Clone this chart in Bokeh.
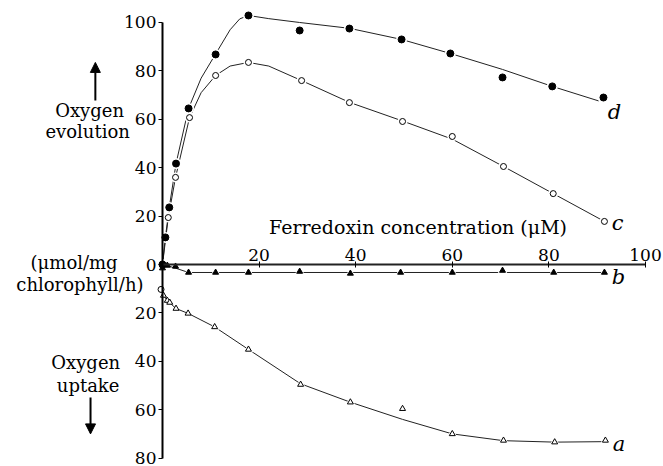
from bokeh.plotting import figure
from bokeh.models import LinearAxis, FixedTicker, Range1d, Label, Arrow, NormalHead
from bokeh.embed import file_html
from bokeh.resources import INLINE

# ---- data ----
# curve d: filled circles (oxygen evolution)
d_x = [0, 0.6, 1.4, 2.8, 5.4, 11.0, 17.8, 28.4, 38.7, 49.5, 59.6, 70.4, 80.7, 91.3]
d_y = [0, 11.2, 23.6, 41.7, 64.5, 86.8, 102.9, 96.7, 97.5, 93.0, 87.2, 77.3, 73.6, 69.0]
d_fit_x = [0, 0.6, 1.4, 2.8, 5.4, 8.0, 11.0, 14.0, 16.0, 17.8, 22.0, 28.4, 38.7, 49.5, 59.6, 70.4, 80.7, 90.3]
d_fit_y = [0, 11.2, 23.6, 41.7, 64.5, 77.0, 87.0, 97.0, 101.5, 102.9, 101.6, 100.0, 97.6, 93.0, 87.2, 80.6, 73.6, 67.6]

# curve c: open circles
c_x = [0, 1.2, 2.7, 5.6, 11.0, 17.8, 28.8, 38.7, 49.7, 60.0, 70.6, 80.9, 91.5]
c_y = [0, 19.4, 36.0, 60.7, 78.1, 83.5, 76.0, 66.9, 59.1, 52.9, 40.5, 29.3, 17.8]
c_fit_x = [0, 1.2, 2.7, 5.6, 8.0, 11.0, 14.0, 17.8, 22.0, 28.8, 38.7, 49.7, 60.0, 70.6, 80.9, 91.5]
c_fit_y = [0, 19.4, 36.0, 60.7, 71.0, 78.1, 82.0, 83.5, 82.0, 76.0, 67.0, 59.3, 51.8, 40.5, 29.3, 17.8]

# curve b: filled triangles
b_x = [0, 1.0, 2.7, 5.4, 11.0, 17.8, 28.4, 38.9, 49.3, 60.0, 70.4, 81.0, 91.5]
b_y = [-1.5, -0.4, -0.8, -3.3, -3.3, -3.3, -2.9, -3.7, -3.3, -3.3, -2.5, -3.3, -3.3]
b_fit_x = [0, 1.0, 2.7, 5.4, 91.5]
b_fit_y = [-0.5, -0.5, -1.5, -3.3, -3.3]

# curve a: open triangles (oxygen uptake)
a_x = [0.2, 1.0, 1.5, 2.8, 5.3, 10.8, 17.8, 28.6, 38.9, 49.7, 60.0, 70.6, 81.2, 91.7]
a_y = [-12.8, -14.9, -15.7, -18.2, -20.2, -25.8, -35.1, -49.6, -56.9, -59.6, -70.0, -72.7, -73.4, -72.7]
a_fit_x = [0, 0.2, 1.0, 2.8, 5.3, 10.8, 17.8, 28.6, 38.9, 49.7, 60.0, 70.6, 81.2, 91.7]
a_fit_y = [-10.3, -12.8, -14.9, -18.2, -20.2, -25.8, -35.1, -49.3, -56.9, -64.0, -70.0, -72.8, -73.4, -73.2]
a0_x = [-0.3]
a0_y = [-10.3]

x_ticks = [20, 40, 60, 80, 100]
y_ticks = [-80, -60, -40, -20, 0, 20, 40, 60, 80, 100]
y_tick_labels = {t: str(abs(t)) for t in y_ticks}

SERIF = "DejaVu Serif"

p = figure(width=663, height=466, output_backend="svg", toolbar_location=None,
           x_range=Range1d(-33.54, 103.73), y_range=Range1d(-83.47, 109.09),
           x_axis_type=None, y_axis_type=None, min_border=0,
           background_fill_color="white", border_fill_color="white")
p.outline_line_color = None
p.grid.visible = False

# axes through the origin
xa = LinearAxis(fixed_location=0, bounds=(0, 100), ticker=FixedTicker(ticks=x_ticks))
xa.axis_line_width = 2
xa.axis_line_color = "#222222"
xa.major_tick_in = 3
xa.major_tick_out = 3
xa.minor_tick_line_color = None
xa.major_label_standoff = 1
xa.major_label_text_font = SERIF
xa.major_label_text_font_size = "17px"
xa.major_label_text_color = "black"
p.add_layout(xa, "above")

ya = LinearAxis(fixed_location=0, bounds=(-80, 100), ticker=FixedTicker(ticks=y_ticks))
ya.axis_line_width = 2
ya.axis_line_color = "black"
ya.major_tick_in = 0
ya.major_tick_out = 4
ya.minor_tick_line_color = None
ya.major_label_standoff = 2
ya.major_label_overrides = y_tick_labels
ya.major_label_text_font = SERIF
ya.major_label_text_font_size = "17px"
ya.major_label_text_color = "black"
p.add_layout(ya, "left")

LC = "#222222"
for fx, fy in [(d_fit_x, d_fit_y), (c_fit_x, c_fit_y), (b_fit_x, b_fit_y), (a_fit_x, a_fit_y)]:
    p.line(fx, fy, line_color=LC, line_width=1)

# white halos (gaps in the curves around the points)
p.scatter(d_x, d_y, marker="circle", size=11, fill_color="white", line_color=None)
p.scatter(c_x, c_y, marker="circle", size=10, fill_color="white", line_color=None)
p.scatter(b_x[3:], b_y[3:], marker="triangle", size=10, fill_color="white", line_color=None)
p.scatter(a_x[5:], a_y[5:], marker="triangle", size=10, fill_color="white", line_color=None)

p.scatter(a_x, a_y, marker="triangle", size=6, fill_color="white", line_color="black", line_width=1)
p.scatter(a0_x, a0_y, marker="circle", size=6, fill_color="white", line_color="black", line_width=1)
p.scatter(c_x, c_y, marker="circle", size=6, fill_color="white", line_color="black", line_width=1)
p.scatter(b_x, b_y, marker="triangle", size=6, fill_color="black", line_color="black")
p.scatter(d_x, d_y, marker="circle", size=7, fill_color="black", line_color="black")

# texts
p.add_layout(Label(x=52.9, y=15.6, text="Ferredoxin concentration (\u03bcM)", text_align="center",
                   text_baseline="alphabetic", text_font=SERIF, text_font_size="19px", text_color="black"))
left_texts = [
    ("Oxygen", -15.1, 63.6),
    ("evolution", -15.5, 54.8),
    ("(\u03bcmol/mg", -18.3, 1.0),
    ("chlorophyll/h)", -17.1, -8.3),
    ("Oxygen", -15.9, -40.4),
    ("uptake", -15.4, -49.8),
]
for t, tx, ty in left_texts:
    p.add_layout(Label(x=tx, y=ty, text=t, text_align="center", text_baseline="alphabetic",
                       text_font=SERIF, text_font_size="18px", text_color="black"))

curve_labels = [("d", 92.2, 63.0), ("c", 93.0, 17.0), ("b", 93.0, -5.0), ("a", 93.2, -74.0)]
for t, tx, ty in curve_labels:
    p.add_layout(Label(x=tx, y=ty, text=t, text_align="left", text_baseline="alphabetic",
                       text_font=SERIF, text_font_style="italic", text_font_size="21px", text_color="black"))

p.add_layout(Arrow(x_start=-13.9, y_start=67.8, x_end=-13.9, y_end=83.5, line_width=2,
                   end=NormalHead(size=10, fill_color="black", line_color="black")))
p.add_layout(Arrow(x_start=-14.9, y_start=-55.0, x_end=-14.9, y_end=-70.0, line_width=2,
                   end=NormalHead(size=10, fill_color="black", line_color="black")))

open("out.html", "w").write(file_html(p, INLINE))
